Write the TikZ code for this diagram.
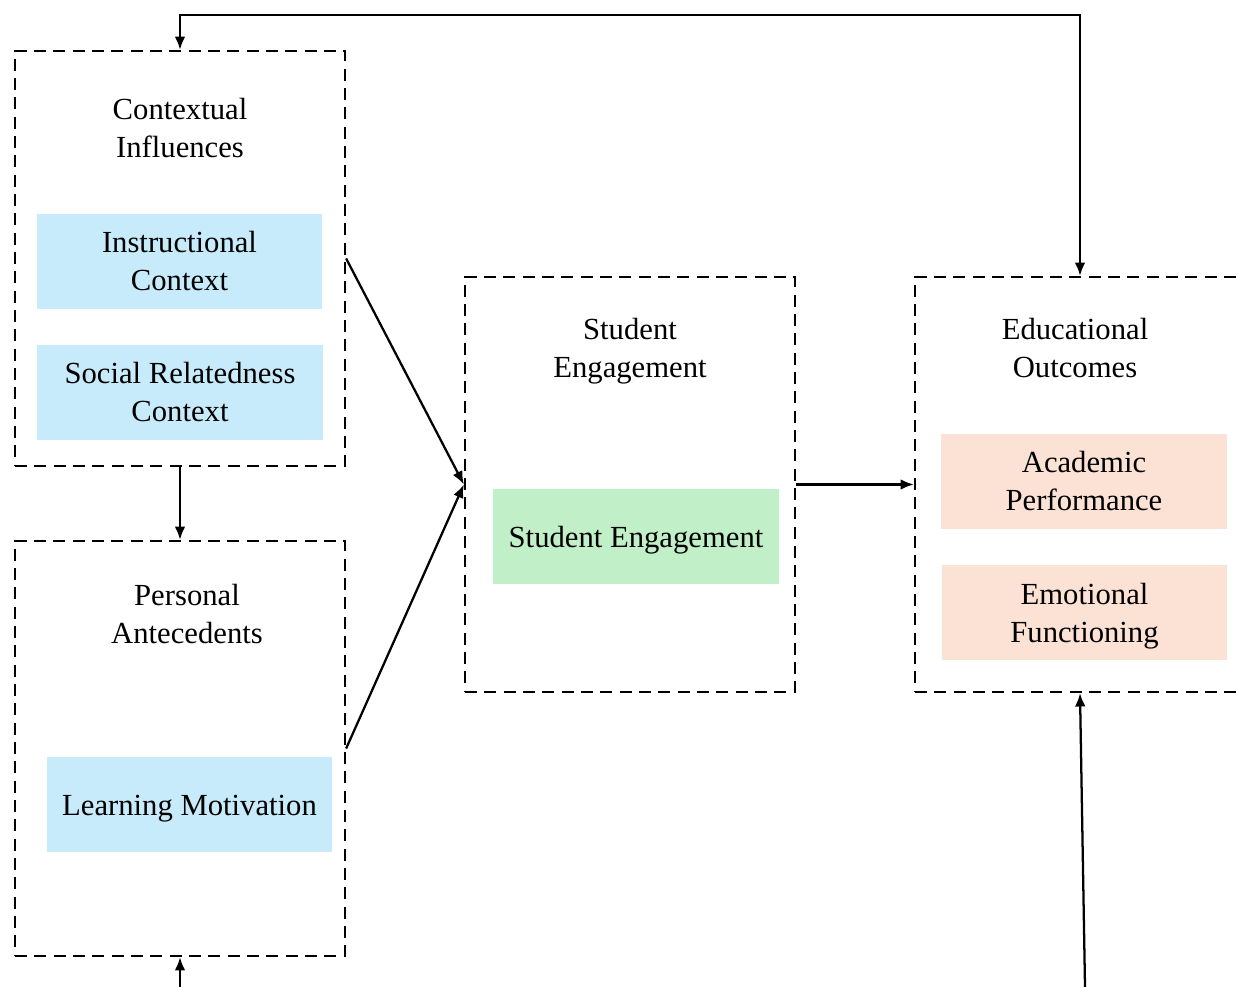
\documentclass[tikz,border=0pt]{standalone}
\usepackage{fontspec}
\setmainfont{Liberation Serif}
\usetikzlibrary{arrows.meta}

\definecolor{ctxblue}{RGB}{199,235,250}
\definecolor{enggreen}{RGB}{193,240,200}
\definecolor{outpeach}{RGB}{251,226,213}

\newcommand{\lowstrut}{\rule{0pt}{22pt}}

\tikzset{
  group/.style={draw, dash pattern=on 9pt off 5.5pt, line width=1.7pt,
    minimum width=247.5pt, minimum height=311.25pt, inner sep=0pt},
  factor/.style={minimum width=214pt, minimum height=71pt, align=center, inner sep=0pt},
  heading/.style={align=center},
  tip/.tip={Latex[length=10pt,width=8pt]},
  link/.style={line width=1.7pt, -tip},
}

\begin{document}
\begin{tikzpicture}[x=0.75pt, y=-0.75pt, font=\fontsize{23}{28.5}\selectfont]
        \clip (0,0) rectangle (1237,987);

        % dashed groups
        \node[group] (ctx) at (180,258.5) {};
        \node[group] (pers) at (180,748.5) {};
        \node[group] (eng) at (630,484.5) {};
        \node[group] (edu) at (1080,484.5) {};

        \node[heading] (ctxtitle) at (180,128) {Contextual\\Influences};
        \node[heading] (perstitle) at (187,614) {Personal\\Antecedents};
        \node[heading] (engtitle) at (630,351) {Student\\Engagement};
        \node[heading] (edutitle) at (1075,348) {Educational\\Outcomes};

        % coloured factors
        \node[factor, fill=ctxblue] (instr) at (179.5,261.5) {Instructional\\Context};
        \node[factor, fill=ctxblue] (social) at (180,392.5) {Social Relatedness\\Context};
        \node[factor, fill=ctxblue] (motiv) at (189.5,804.5) {\lowstrut Learning Motivation};
        \node[factor, fill=enggreen] (engf) at (636,536.5) {\lowstrut Student Engagement};
        \node[factor, fill=outpeach] (acad) at (1084,481.5) {Academic\\Performance};
        \node[factor, fill=outpeach] (emo) at (1084.5,612.5) {\lowstrut Emotional\\Functioning};

        \coordinate (persin) at (180,987);
        \coordinate (eduin) at (1085,987);

        \draw[link] (ctx.south) -- (pers.north);
        \draw[link] (ctx.east) -- (eng.west);
        \draw[link] (pers.east) -- (eng.west);
        \draw[link] (eng.east) -- (edu.west);
        \draw[link, tip-tip] (ctx.north) -- ++(0,-35) -| (edu.north);
        \draw[link] (persin) -- (pers.south);
        \draw[link] (eduin) -- (edu.south);
\end{tikzpicture}
\end{document}
